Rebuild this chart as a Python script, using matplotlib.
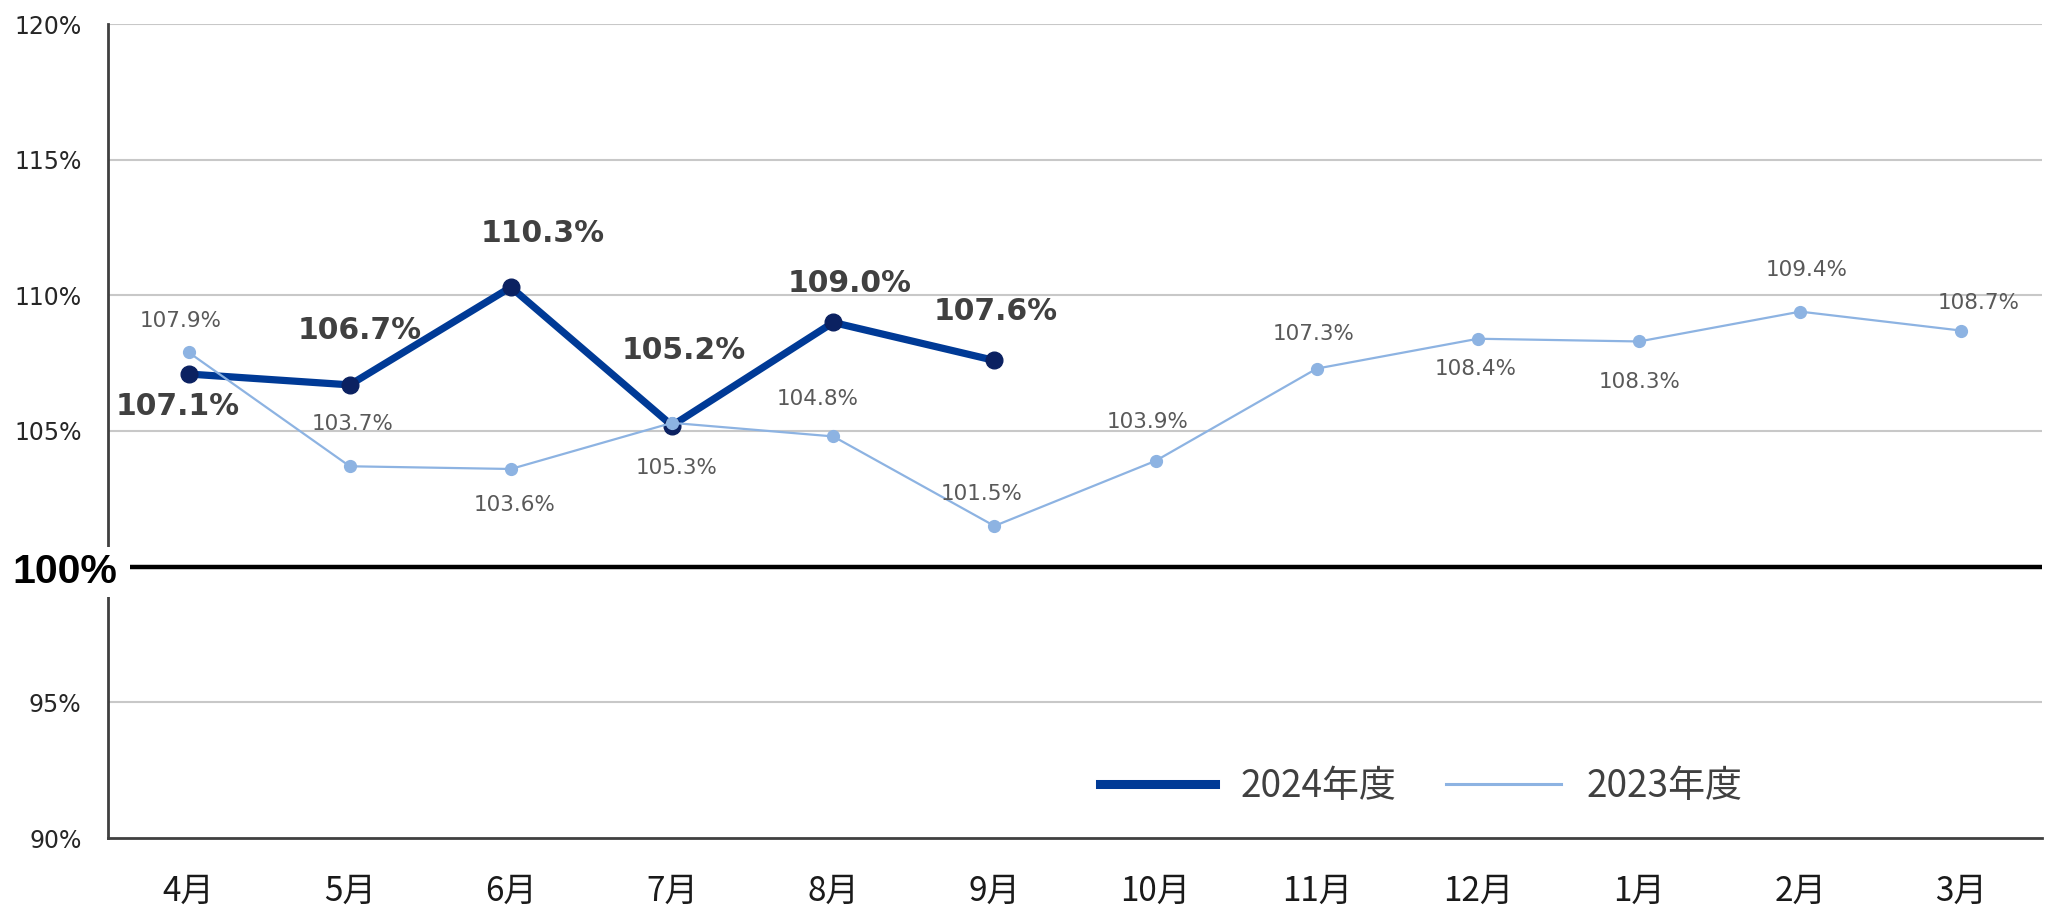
import matplotlib
matplotlib.use("Agg")
import matplotlib.pyplot as plt
from matplotlib.lines import Line2D

months = ["4月", "5月", "6月", "7月", "8月", "9月", "10月", "11月", "12月", "1月", "2月", "3月"]
fy2024 = [107.1, 106.7, 110.3, 105.2, 109.0, 107.6]
fy2023 = [107.9, 103.7, 103.6, 105.3, 104.8, 101.5, 103.9, 107.3, 108.4, 108.3, 109.4, 108.7]
yticks = [90, 95, 105, 110, 115, 120]
series_names = ["2024年度", "2023年度"]

# label offsets (pixels) – layout only
off2024 = [(-11, -32), (10, 54), (32, 54), (12, 75), (16, 39), (1, 49)]
off2023 = [(-8, 31), (3, 42), (4, -36), (5, -45), (-16, 37), (-13, 32),
           (-8, 39), (-3, 35), (-2, -30), (1, -41), (6, 42), (17, 28)]

W, H = 2049, 911
fig = plt.figure(figsize=(W / 100, H / 100), dpi=100)
ax = fig.add_axes([108 / W, (H - 838) / H, (2042 - 108) / W, (838 - 24) / H])

C24 = "#003a96"
C24M = "#0b2161"
C23 = "#8db3e2"
GRID = "#c8c8c8"
SP = "#404040"

x24 = list(range(len(fy2024)))
x23 = list(range(len(fy2023)))

ax.set_xlim(-0.5, len(months) - 0.5)
ax.set_ylim(90, 120)

for y in [95, 105, 110, 115, 120]:
    ax.axhline(y, color=GRID, lw=1.5, zorder=1)

ax.plot([-0.365, 11.5], [100, 100], color="black", lw=3.2, zorder=2, solid_capstyle="butt")

ax.plot(x24, fy2024, color=C24, lw=5.2, marker="o", ms=12,
        mfc=C24M, mec=C24M, zorder=4)
ax.plot(x23, fy2023, color=C23, lw=1.6, marker="o", ms=8.5,
        mfc=C23, mec=C23, zorder=5)

for xi, v, (dx, dy) in zip(x24, fy2024, off2024):
    ax.annotate(f"{v:.1f}%", (xi, v), xytext=(dx, dy), textcoords="offset pixels",
                ha="center", va="center", fontsize=21.5, fontweight="bold",
                color="#404040", family="DejaVu Sans", zorder=6)
for xi, v, (dx, dy) in zip(x23, fy2023, off2023):
    ax.annotate(f"{v:.1f}%", (xi, v), xytext=(dx, dy), textcoords="offset pixels",
                ha="center", va="center", fontsize=15.5,
                color="#595959", family="DejaVu Sans", zorder=6)

for s in ["top", "right"]:
    ax.spines[s].set_visible(False)
for s in ["left", "bottom"]:
    ax.spines[s].set_color(SP)
    ax.spines[s].set_linewidth(2)

ax.set_yticks(yticks)
ax.set_yticklabels([f"{t}%" for t in yticks], fontsize=17, color="#262626", family="DejaVu Sans")
ax.tick_params(axis="y", length=0, pad=19)

ax.set_xticks(range(len(months)))
ax.set_xticklabels(months, fontsize=24, color="#1a1a1a", family="Noto Sans CJK JP")
ax.tick_params(axis="x", length=0, pad=26)

ax.text(-0.767, 99.8, "100%", transform=ax.transData, ha="center", va="center",
        fontsize=29.5, fontweight="bold", family="Liberation Sans", color="black",
        bbox=dict(facecolor="white", edgecolor="none", pad=4), clip_on=False, zorder=10)

handles = [Line2D([0], [0], color=C24, lw=6.5),
           Line2D([0], [0], color=C23, lw=2.2)]
leg = ax.legend(handles, series_names, loc="center", bbox_to_anchor=(0.679, 0.063),
                ncol=2, frameon=False, handlelength=3.1, handletextpad=0.7,
                columnspacing=1.35, prop={"family": "Noto Sans CJK JP", "size": 26.6})
for t in leg.get_texts():
    t.set_color("#404040")

fig.savefig("out.png", dpi=100)
